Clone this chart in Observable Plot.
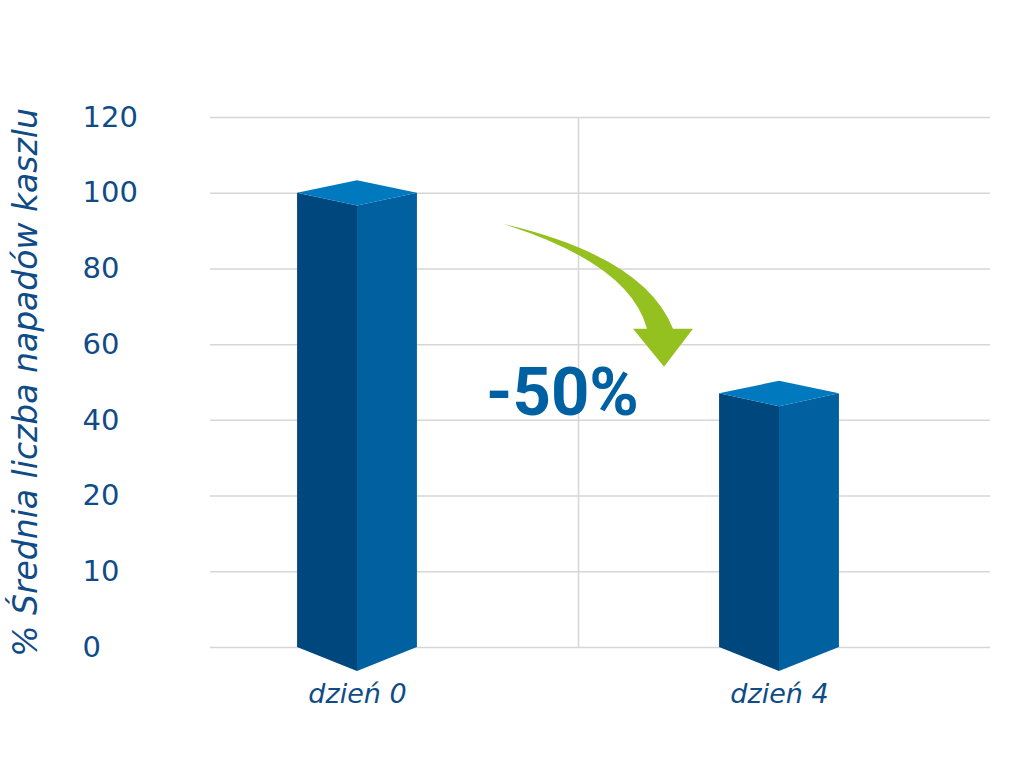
<!DOCTYPE html>
<html><head><meta charset="utf-8">
<script src="https://cdn.jsdelivr.net/npm/d3@7"></script>
<script src="https://cdn.jsdelivr.net/npm/@observablehq/plot@0.6"></script>
<style>body{margin:0;background:#fff} svg{display:block}</style>
</head><body><div id="chart"></div>
<script>
// ---- data ----
const days = ["dzień 0", "dzień 4"];
const values = [100, 47];
const yTicks = [0, 10, 20, 40, 60, 80, 100, 120];
const yTitle = "% Średnia liczba napadów kaszlu";
const changeLabel = "-50%";
const arrowTipValue = 54;

const data = days.map((d, i) => ({day: d, value: values[i]}));

// ---- layout ----
const W = 1024, H = 777, mt = 117, mb = 130, ml = 210, mr = 34;
const yRange = yTicks.map((_, i) => (H - mb) - i * (H - mb - mt) / (yTicks.length - 1));
const textColor = "#0f4c87";
const leftColor = "#00477e", rightColor = "#0060a0", topColor = "#0079bf";
const green = "#94c11f";
const barFrac = 0.284;

function prismRender(index, scales, vals) {
  const bw = scales.x.bandwidth();
  const g = d3.create("svg:g");
  for (const i of index) {
    const cx = vals.x[i] + bw / 2;
    const hw = bw * barFrac / 2;
    const yT = Math.min(vals.y1[i], vals.y2[i]);
    const yB = Math.max(vals.y1[i], vals.y2[i]);
    const back = hw * 0.21, front = hw * 0.215, bot = hw * 0.4;
    const L = cx - hw, R = cx + hw;
    g.append("path").attr("fill", leftColor)
      .attr("d", `M${L},${yT}L${cx},${yT + front}L${cx},${yB + bot}L${L},${yB}Z`);
    g.append("path").attr("fill", rightColor)
      .attr("d", `M${cx},${yT + front}L${R},${yT}L${R},${yB}L${cx},${yB + bot}Z`);
    g.append("path").attr("fill", topColor)
      .attr("d", `M${L},${yT}L${cx},${yT - back}L${R},${yT}L${cx},${yT + front}Z`);
  }
  return g.node();
}

function arrowRender(index, scales, vals) {
  const bw = scales.x.bandwidth();
  const g = d3.create("svg:g");
  for (const i of index) {
    // tip sits between the bars, offset left of the second bar's centre
    const tx = vals.x[i] + bw / 2 - 115, ty = vals.y[i];
    g.append("path").attr("fill", green)
      .attr("transform", `translate(${tx},${ty})`)
      .attr("d", "M-161,-143 Q-19,-110 9,-38 L29,-38 L0,0 L-31,-38 L-17,-38 Q-34,-103 -161,-143 Z");
  }
  return g.node();
}

const chart = Plot.plot({
  width: W, height: H,
  marginTop: mt, marginBottom: mb, marginLeft: ml, marginRight: mr,
  style: {fontFamily: "Verdana, 'DejaVu Sans', sans-serif", background: "#fff"},
  x: {domain: days, range: [146, 990], padding: 0, label: null},
  y: {type: "linear", domain: yTicks, range: yRange, label: null},
  marks: [
    Plot.ruleY(yTicks, {stroke: "#d6d6d6", strokeWidth: 1.5}),
    Plot.ruleX([days[1]], {y1: 0, y2: 120, dx: -201, stroke: "#d6d6d6", strokeWidth: 1.5}),
    Plot.barY(data, {x: "day", y: "value", render: prismRender}),
    Plot.dot([{day: days[1], value: arrowTipValue}], {x: "day", y: "value", render: arrowRender}),
    Plot.text([{day: days[1], value: values[1]}], {x: "day", y: "value", text: () => changeLabel,
      dx: -217, fontSize: 67, fontWeight: "bold", fontFamily: "Roboto, 'Liberation Sans', sans-serif",
      fill: "#0061a2"}),
    Plot.axisY(yTicks, {tickSize: 0, tickPadding: 128, textAnchor: "start", fontSize: 29,
      color: textColor, label: null}),
    Plot.axisX({tickSize: 0, tickPadding: 36, fontSize: 27, fontStyle: "italic",
      color: textColor, label: null}),
    Plot.text([yTitle], {text: d => d, frameAnchor: "left", textAnchor: "middle", rotate: -90, dx: -184,
      fontSize: 33, fontStyle: "italic", fill: textColor})
  ]
});
document.getElementById("chart").appendChild(chart);
</script>
</body></html>
